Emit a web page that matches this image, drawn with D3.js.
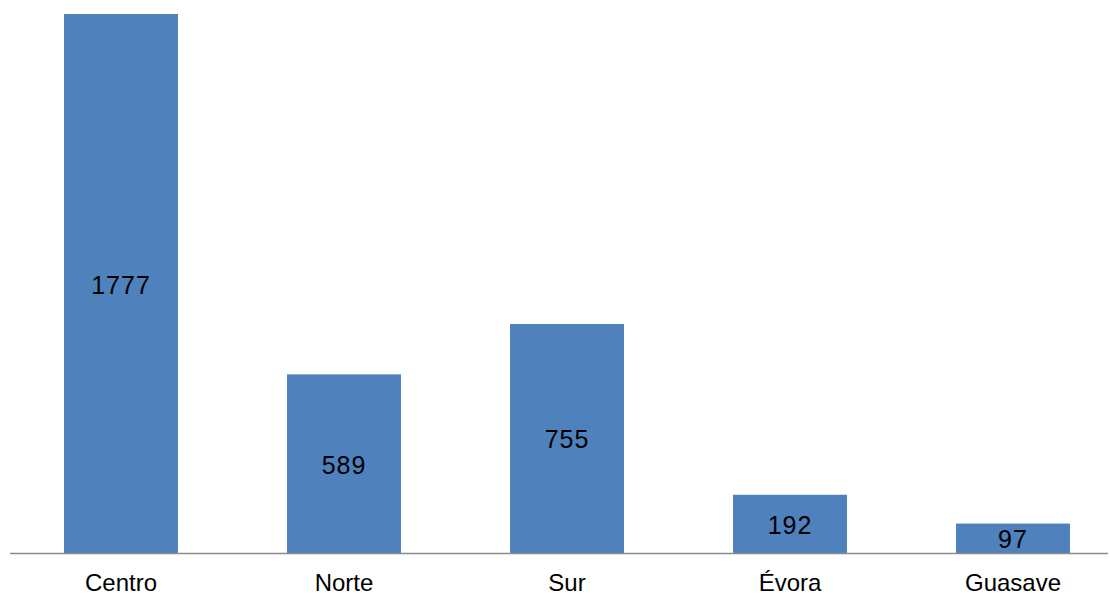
<!DOCTYPE html>
<html>
<head>
<meta charset="utf-8">
<script src="https://cdn.jsdelivr.net/npm/d3@7"></script>
<style>
  body { margin: 0; background: #fff; }
  svg { display: block; font-family: "Liberation Sans", Arial, sans-serif; }
</style>
</head>
<body>
<div id="chart"></div>
<script>
var categories = ["Centro", "Norte", "Sur", "Évora", "Guasave"];
var values = [1777, 589, 755, 192, 97];

var width = 1110, height = 596;

var svg = d3.select("#chart").append("svg")
    .attr("width", width)
    .attr("height", height);

var x = d3.scaleBand()
    .domain(categories)
    .range([9.5, 1124.5])
    .paddingInner(0.489)
    .paddingOuter(0.2445);

var y = d3.scaleLinear()
    .domain([0, 1777])
    .range([553, 14]);

var data = categories.map(function(c, i) { return { name: c, value: values[i] }; });

svg.append("g")
    .selectAll("rect")
    .data(data)
    .enter().append("rect")
    .attr("x", function(d) { return x(d.name); })
    .attr("y", function(d) { return y(d.value); })
    .attr("width", x.bandwidth())
    .attr("height", function(d) { return y(0) - y(d.value); })
    .attr("fill", "#4f81bd");

svg.append("g")
    .selectAll("text")
    .data(data)
    .enter().append("text")
    .attr("x", function(d) { return x(d.name) + x.bandwidth() / 2; })
    .attr("y", function(d) { return (y(d.value) + y(0)) / 2; })
    .attr("dy", "0.4em")
    .attr("text-anchor", "middle")
    .attr("font-size", 25)
    .attr("letter-spacing", 1)
    .attr("fill", "#000")
    .text(function(d) { return d.value; });

// baseline
svg.append("line")
    .attr("x1", 10).attr("x2", 1108)
    .attr("y1", y(0) + 0.5).attr("y2", y(0) + 0.5)
    .attr("stroke", "#8c8c8c")
    .attr("stroke-width", 1.5);

var xAxis = svg.append("g")
    .attr("transform", "translate(0," + y(0) + ")")
    .call(d3.axisBottom(x).tickSize(0).tickPadding(21));
xAxis.select(".domain").remove();
xAxis.selectAll("text")
    .attr("font-size", 24)
    .attr("font-family", "Liberation Sans, Arial, sans-serif")
    .attr("fill", "#000");
</script>
</body>
</html>
